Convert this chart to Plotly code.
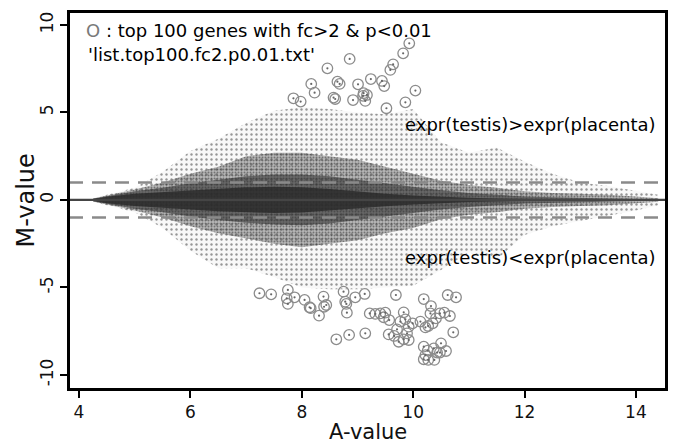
import plotly.graph_objects as go

# ---------------- data ----------------
# density envelopes of the gene cloud (M-value limits per A-value)
env_a = [4.25, 4.5, 5.0, 5.5, 6.0, 6.5, 7.0, 7.5, 8.0, 8.5, 9.0, 9.5,
         10.0, 10.5, 11.0, 11.5, 12.0, 12.5, 13.0, 13.5, 14.0, 14.4]
outer_hi = [0.1, 0.3, 0.7, 1.6, 2.8, 3.5, 4.4, 5.1, 5.3, 5.2, 5.0, 4.9,
            5.2, 3.3, 2.7, 3.0, 2.2, 1.5, 1.0, 0.8, 0.5, 0.3]
outer_lo = [-0.1, -0.3, -0.7, -1.6, -2.9, -3.9, -3.9, -4.4, -5.0, -5.1, -5.1, -5.0,
            -4.9, -4.0, -3.0, -3.4, -2.0, -1.5, -1.2, -0.9, -0.6, -0.3]
mid_hi = [0.08, 0.25, 0.6, 1.0, 1.5, 1.9, 2.5, 2.7, 2.7, 2.5, 2.3, 1.9,
          1.5, 1.1, 0.85, 0.7, 0.5, 0.4, 0.35, 0.3, 0.2, 0.1]
mid_lo = [-0.08, -0.25, -0.6, -1.0, -1.5, -1.9, -2.2, -2.5, -2.7, -2.5, -2.3, -1.9,
          -1.6, -1.1, -0.85, -0.7, -0.5, -0.4, -0.35, -0.3, -0.2, -0.1]
dense_hi = [0.07, 0.22, 0.5, 0.7, 0.95, 1.15, 1.35, 1.45, 1.45, 1.35, 1.15, 0.95,
            0.75, 0.55, 0.4, 0.3, 0.2, 0.15, 0.12, 0.1, 0.06, 0.03]
dense_lo = [-0.07, -0.22, -0.5, -0.7, -0.95, -1.15, -1.3, -1.4, -1.45, -1.35, -1.15, -0.95,
            -0.75, -0.55, -0.4, -0.3, -0.2, -0.15, -0.12, -0.1, -0.06, -0.03]
core_hi = [0.06, 0.18, 0.35, 0.45, 0.55, 0.65, 0.72, 0.75, 0.72, 0.62, 0.48, 0.36,
           0.26, 0.18, 0.12, 0.08, 0.05, 0.03, 0.02, 0.02, 0.01, 0.0]
core_lo = [-0.06, -0.18, -0.35, -0.45, -0.55, -0.65, -0.72, -0.75, -0.72, -0.62, -0.48, -0.36,
           -0.26, -0.18, -0.12, -0.08, -0.05, -0.03, -0.02, -0.02, -0.01, 0.0]

# top 100 genes (fc>2 & p<0.01)
top_a = [9.93, 9.82, 8.86, 8.46, 9.64, 9.59, 8.17, 8.64, 8.68, 9.01, 9.24, 9.44,
         9.48, 8.23, 7.85, 7.98, 8.57, 8.60, 8.92, 9.11, 9.17, 9.14, 9.10, 10.04,
         9.86, 9.52,
         7.24, 7.45, 7.75, 7.73, 7.75, 7.87, 8.05, 8.14, 8.16, 8.31, 8.39, 8.44,
         8.40, 8.75, 8.78, 8.80, 8.96, 9.13, 8.81, 9.69, 10.19, 10.32, 10.62, 10.77,
         9.22, 9.32, 9.41, 9.50, 9.47, 9.57, 9.83, 9.77, 9.86, 9.99, 9.92,
         10.13, 10.22, 10.27, 10.35, 10.41, 10.48, 10.56, 10.66, 10.31, 10.72,
         9.56, 9.66, 9.74, 9.83, 9.92, 9.89, 9.71, 8.62, 8.85, 9.14,
         10.19, 10.26, 10.37, 10.50, 10.59, 10.43, 10.19, 10.27, 10.38, 10.48, 10.22]
top_m = [8.95, 8.38, 8.06, 7.52, 7.75, 7.43, 6.63, 6.76, 6.63, 6.61, 6.91, 6.80,
         6.51, 6.13, 5.81, 5.62, 5.85, 5.77, 5.71, 6.10, 6.00, 5.66, 5.95, 6.25,
         5.58, 5.24,
         -5.33, -5.39, -5.14, -5.62, -5.94, -5.56, -5.71, -6.13, -6.18, -6.61, -5.52, -6.00,
         -6.10, -5.24, -5.81, -5.94, -5.56, -5.37, -6.44, -5.43, -5.66, -6.06, -5.43, -5.56,
         -6.48, -6.51, -6.48, -6.44, -6.70, -6.86, -6.42, -6.95, -6.82, -7.05, -7.24,
         -6.95, -7.28, -7.20, -7.05, -6.76, -6.48, -6.44, -6.63, -6.48, -7.56,
         -7.68, -7.77, -8.10, -7.96, -8.00, -7.62, -7.39, -7.96, -7.71, -7.62,
         -8.38, -8.61, -8.48, -8.19, -8.63, -8.72, -9.10, -9.14, -9.14, -8.72, -8.86]

x_ticks = [4, 6, 8, 10, 12, 14]
y_ticks = [-10, -5, 0, 5, 10]

FONT = "DejaVu Sans"


def band(hi, lo):
    return env_a + env_a[::-1], hi + lo[::-1]


fig = go.Figure()

layers = [
    (outer_hi, outer_lo, "rgba(80,80,80,0.04)", 5, 0.18, "#333333"),
    (mid_hi, mid_lo, "rgba(60,60,60,0.34)", 3, 0.35, "#2e2e2e"),
    (dense_hi, dense_lo, "rgba(50,50,50,0.5)", 2, 0.4, "#2b2b2b"),
]
for hi, lo, fc, psize, psol, pfg in layers:
    bx, by = band(hi, lo)
    fig.add_trace(go.Scatter(
        x=bx, y=by, mode="lines", fill="toself", line=dict(width=0), fillcolor=fc,
        fillpattern=dict(shape=".", size=psize, solidity=psol, fgcolor=pfg,
                         bgcolor=fc, fillmode="overlay"),
        hoverinfo="skip", showlegend=False))
bx, by = band(core_hi, core_lo)
fig.add_trace(go.Scatter(x=bx, y=by, mode="lines", fill="toself", line=dict(width=0),
                         fillcolor="rgba(40,40,40,0.8)", hoverinfo="skip", showlegend=False))

fig.add_trace(go.Scatter(x=top_a, y=top_m, mode="markers",
                         marker=dict(symbol="circle-open", size=10.5, color="#8c8c8c",
                                     line=dict(width=1.3, color="#8c8c8c")),
                         hoverinfo="skip", showlegend=False))
fig.add_trace(go.Scatter(x=top_a, y=top_m, mode="markers",
                         marker=dict(symbol="circle", size=2.2, color="#666666"),
                         hoverinfo="skip", showlegend=False))

# reference lines
fig.add_shape(type="line", xref="paper", x0=0, x1=1, yref="y", y0=0, y1=0,
              line=dict(color="#454545", width=2.2), layer="above")
for yv in (1, -1):
    fig.add_shape(type="line", xref="paper", x0=0, x1=1, yref="y", y0=yv, y1=yv,
                  line=dict(color="#8a8a8a", width=2.5, dash="14px,9px"), layer="above")
# frame
fig.add_shape(type="rect", xref="paper", yref="paper", x0=0, x1=1, y0=0, y1=1,
              line=dict(color="black", width=2), layer="above")

ann_font = dict(family=FONT, size=18, color="black")
fig.add_annotation(x=4.09, y=9.66, xref="x", yref="y", xanchor="left", yanchor="middle",
                   showarrow=False, font=ann_font,
                   text="<span style='color:#7a7a7a'>O</span> : top 100 genes with fc&gt;2 &amp; p&lt;0.01")
fig.add_annotation(x=4.12, y=8.29, xref="x", yref="y", xanchor="left", yanchor="middle",
                   showarrow=False, font=ann_font, text="'list.top100.fc2.p0.01.txt'")
fig.add_annotation(x=9.82, y=4.29, xref="x", yref="y", xanchor="left", yanchor="middle",
                   showarrow=False, font=ann_font, text="expr(testis)&gt;expr(placenta)")
fig.add_annotation(x=9.82, y=-3.31, xref="x", yref="y", xanchor="left", yanchor="middle",
                   showarrow=False, font=ann_font, text="expr(testis)&lt;expr(placenta)")

# axis titles placed as annotations (pixel positions of the reference)
fig.add_annotation(x=0.5, y=0, xref="paper", yref="paper", yshift=-43,
                   xanchor="center", yanchor="middle",
                   showarrow=False, text="A-value",
                   font=dict(family=FONT, size=21, color="#111"))
fig.add_annotation(x=-44 / 597, y=0.5, xref="paper", yref="paper", textangle=-90,
                   showarrow=False, text="M-value", xanchor="center", yanchor="middle",
                   font=dict(family=FONT, size=24, color="#111"))

axis_common = dict(showgrid=False, zeroline=False, showline=True, linecolor="black",
                   linewidth=2, mirror=True, ticks="outside", ticklen=7, tickwidth=2,
                   tickcolor="black", automargin=False,
                   tickfont=dict(family=FONT, size=17, color="#111"))

fig.update_layout(
    width=678, height=446,
    margin=dict(l=69, r=12, t=12, b=57),
    paper_bgcolor="white", plot_bgcolor="white",
    xaxis=dict(range=[3.82, 14.54], tickvals=x_ticks,
               ticktext=[str(v) for v in x_ticks], **axis_common),
    yaxis=dict(range=[-10.8, 10.74], tickvals=y_ticks,
               ticktext=[str(v) for v in y_ticks], tickangle=-90, **axis_common),
)

fig.write_html("out.html", config={"displayModeBar": False},
               post_script="document.body.style.margin='0';")
